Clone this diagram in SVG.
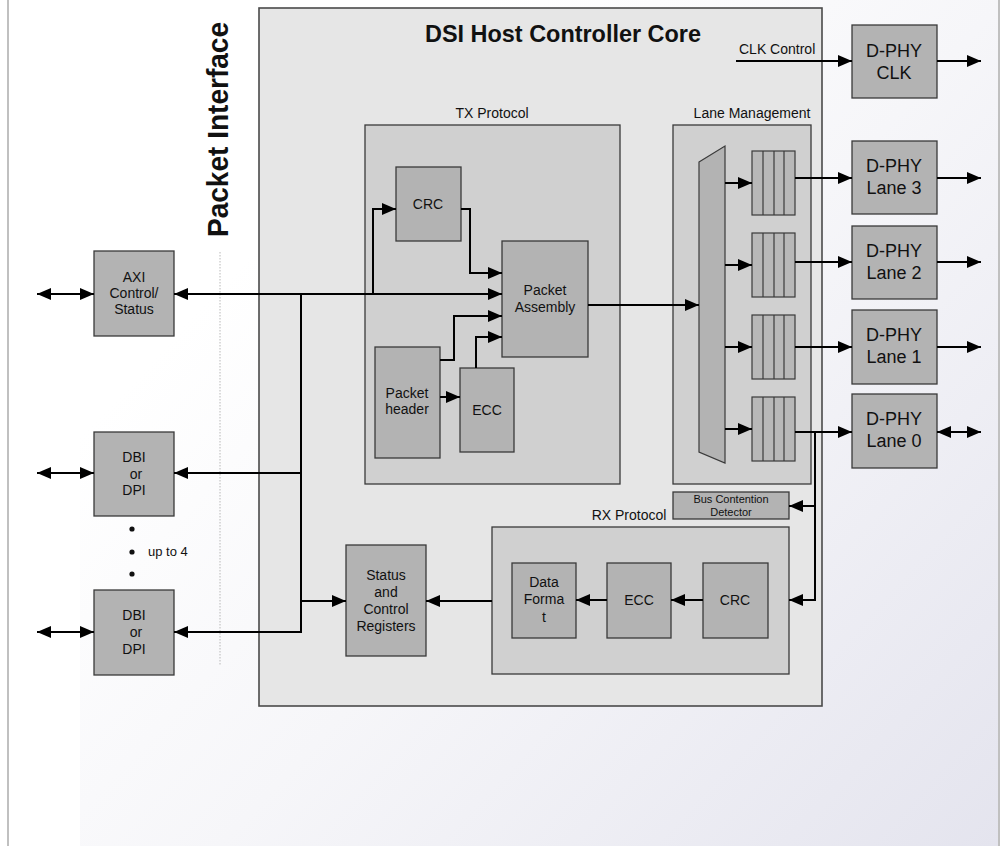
<svg xmlns="http://www.w3.org/2000/svg" width="1004" height="846" viewBox="0 0 1004 846">
<defs>
<linearGradient id="bg" gradientUnits="userSpaceOnUse" x1="300" y1="200" x2="998" y2="846">
<stop offset="0" stop-color="#ffffff"/>
<stop offset="0.4" stop-color="#f6f6f9"/>
<stop offset="1" stop-color="#e4e4ee"/>
</linearGradient>
<marker id="ah" viewBox="0 0 14 12" refX="14" refY="6" markerWidth="14" markerHeight="12" markerUnits="userSpaceOnUse" orient="auto-start-reverse">
<path d="M0,0 L14,6 L0,12 z" fill="#000"/>
</marker>
</defs>
<style>
text{font-family:"Liberation Sans",Arial,sans-serif;fill:#111;}
.t14{font-size:14px;text-anchor:middle;}
.t18{font-size:18px;text-anchor:middle;}
.blk{fill:#b3b3b3;stroke:#3a3a3a;stroke-width:1.3;}
.grp{fill:#d0d0d0;stroke:#3a3a3a;stroke-width:1.3;}
.core{fill:#e6e6e6;stroke:#4a4a4a;stroke-width:1.6;}
.fifo{fill:#b8b8b8;stroke:#3a3a3a;stroke-width:1.2;}
.c{fill:none;stroke:#000;stroke-width:2;}
.a{marker-end:url(#ah);}
.d{marker-start:url(#ah);marker-end:url(#ah);}
</style>
<rect x="0" y="0" width="1004" height="846" fill="#ffffff"/>
<rect x="80" y="0" width="919" height="846" fill="url(#bg)"/>
<line x1="8" y1="0" x2="8" y2="846" stroke="#c0c0c0" stroke-width="2"/>
<line x1="999" y1="0" x2="999" y2="846" stroke="#c0c0c0" stroke-width="2"/>

<text x="228" y="237" transform="rotate(-90 228 237)" style="font-size:29px;font-weight:bold" textLength="215" lengthAdjust="spacingAndGlyphs">Packet Interface</text>
<line x1="220" y1="252" x2="220" y2="665" stroke="#b8b8b8" stroke-width="1" stroke-dasharray="1.5,1.5"/>

<g id="core">
<rect class="core" x="259" y="8" width="563" height="698"/>
<text x="563" y="42" style="font-size:24px;font-weight:bold;text-anchor:middle" textLength="276" lengthAdjust="spacingAndGlyphs">DSI Host Controller Core</text>
</g>

<g id="tx-protocol">
<rect class="grp" x="365" y="125" width="255" height="359"/>
<text class="t14" x="492" y="118">TX Protocol</text>
</g>
<g id="lane-management">
<rect class="grp" x="673" y="125" width="138" height="359"/>
<text class="t14" x="752" y="118">Lane Management</text>
</g>
<g id="rx-protocol">
<rect class="grp" x="492" y="527" width="297" height="147"/>
<text class="t14" x="629" y="520">RX Protocol</text>
</g>

<g id="axi">
<rect class="blk" x="94" y="251" width="80" height="85"/>
<text class="t14" x="134" y="282">AXI</text>
<text class="t14" x="134" y="298">Control/</text>
<text class="t14" x="134" y="314">Status</text>
</g>
<g id="dbi1">
<rect class="blk" x="94" y="432" width="80" height="84"/>
<text class="t14" x="134" y="462">DBI</text>
<text class="t14" x="136" y="479">or</text>
<text class="t14" x="134" y="495">DPI</text>
</g>
<g id="upto4">
<circle cx="132" cy="529" r="2.6" fill="#111"/>
<circle cx="132" cy="552" r="2.6" fill="#111"/>
<circle cx="132" cy="574" r="2.6" fill="#111"/>
<text x="148" y="556" style="font-size:13px">up to 4</text>
</g>
<g id="dbi2">
<rect class="blk" x="94" y="590" width="80" height="85"/>
<text class="t14" x="134" y="620">DBI</text>
<text class="t14" x="136" y="637">or</text>
<text class="t14" x="134" y="654">DPI</text>
</g>

<g id="status-regs">
<rect class="blk" x="346" y="545" width="80" height="111"/>
<text class="t14" x="386" y="580">Status</text>
<text class="t14" x="386" y="597">and</text>
<text class="t14" x="386" y="614">Control</text>
<text class="t14" x="386" y="631">Registers</text>
</g>

<g id="tx-crc">
<rect class="blk" x="396" y="167" width="65" height="74"/>
<text class="t14" x="428" y="209">CRC</text>
</g>
<g id="packet-assembly">
<rect class="blk" x="502" y="241" width="86" height="116"/>
<text class="t14" x="545" y="295">Packet</text>
<text class="t14" x="545" y="312">Assembly</text>
</g>
<g id="packet-header">
<rect class="blk" x="375" y="347" width="65" height="111"/>
<text class="t14" x="407" y="398">Packet</text>
<text class="t14" x="407" y="414">header</text>
</g>
<g id="tx-ecc">
<rect class="blk" x="460" y="368" width="54" height="84"/>
<text class="t14" x="487" y="415">ECC</text>
</g>

<g id="mux">
<polygon points="699,162 725,146 725,463 699,452" fill="#b3b3b3" stroke="#3a3a3a" stroke-width="1.2"/>
</g>
<g id="fifo3">
<rect class="fifo" x="752" y="151" width="43" height="64"/>
<path d="M763,151V215M774,151V215M784,151V215" stroke="#3a3a3a" stroke-width="1.2"/>
</g>
<g id="fifo2">
<rect class="fifo" x="752" y="233" width="43" height="64"/>
<path d="M763,233V297M774,233V297M784,233V297" stroke="#3a3a3a" stroke-width="1.2"/>
</g>
<g id="fifo1">
<rect class="fifo" x="752" y="315" width="43" height="64"/>
<path d="M763,315V379M774,315V379M784,315V379" stroke="#3a3a3a" stroke-width="1.2"/>
</g>
<g id="fifo0">
<rect class="fifo" x="752" y="397" width="43" height="64"/>
<path d="M763,397V461M774,397V461M784,397V461" stroke="#3a3a3a" stroke-width="1.2"/>
</g>

<g id="bus-contention">
<rect class="blk" x="673" y="492" width="116" height="27"/>
<text x="731" y="503" style="font-size:11px;text-anchor:middle">Bus Contention</text>
<text x="731" y="516" style="font-size:11px;text-anchor:middle">Detector</text>
</g>

<g id="rx-dataformat">
<rect class="blk" x="512" y="563" width="64" height="75"/>
<text class="t14" x="544" y="587">Data</text>
<text class="t14" x="544" y="604">Forma</text>
<text class="t14" x="544" y="622">t</text>
</g>
<g id="rx-ecc">
<rect class="blk" x="607" y="563" width="64" height="75"/>
<text class="t14" x="639" y="605">ECC</text>
</g>
<g id="rx-crc">
<rect class="blk" x="703" y="563" width="65" height="75"/>
<text class="t14" x="735" y="605">CRC</text>
</g>

<g id="dphy-clk">
<rect class="blk" x="852" y="25" width="85" height="73"/>
<text class="t18" x="894" y="57">D-PHY</text>
<text class="t18" x="894" y="79">CLK</text>
</g>
<g id="dphy-lane3">
<rect class="blk" x="852" y="141" width="85" height="73"/>
<text class="t18" x="894" y="172">D-PHY</text>
<text class="t18" x="894" y="194">Lane 3</text>
</g>
<g id="dphy-lane2">
<rect class="blk" x="852" y="226" width="85" height="73"/>
<text class="t18" x="894" y="257">D-PHY</text>
<text class="t18" x="894" y="279">Lane 2</text>
</g>
<g id="dphy-lane1">
<rect class="blk" x="852" y="310" width="85" height="74"/>
<text class="t18" x="894" y="341">D-PHY</text>
<text class="t18" x="894" y="363">Lane 1</text>
</g>
<g id="dphy-lane0">
<rect class="blk" x="852" y="394" width="85" height="74"/>
<text class="t18" x="894" y="425">D-PHY</text>
<text class="t18" x="894" y="447">Lane 0</text>
</g>

<text x="739" y="54" style="font-size:14px">CLK Control</text>

<g id="connectors">
<line class="c d" x1="37" y1="294" x2="94" y2="294"/>
<line class="c d" x1="37" y1="473" x2="94" y2="473"/>
<line class="c d" x1="37" y1="632" x2="94" y2="632"/>
<line class="c a" x1="301" y1="294" x2="174" y2="294"/>
<line class="c a" x1="301" y1="294" x2="502" y2="294"/>
<line class="c" x1="301" y1="294" x2="301" y2="633"/>
<line class="c a" x1="302" y1="473" x2="174" y2="473"/>
<line class="c a" x1="302" y1="632" x2="174" y2="632"/>
<line class="c a" x1="300" y1="601" x2="346" y2="601"/>
<path class="c a" d="M373,294V209H396"/>
<path class="c a" d="M461,209H470V273H502"/>
<path class="c a" d="M440,360H454V316H502"/>
<path class="c a" d="M476,368V337H502"/>
<line class="c a" x1="440" y1="397" x2="460" y2="397"/>
<line class="c a" x1="588" y1="305" x2="699" y2="305"/>
<line class="c a" x1="725" y1="183" x2="752" y2="183"/>
<line class="c a" x1="725" y1="265" x2="752" y2="265"/>
<line class="c a" x1="725" y1="347" x2="752" y2="347"/>
<line class="c a" x1="725" y1="429" x2="752" y2="429"/>
<line class="c a" x1="795" y1="178" x2="852" y2="178"/>
<line class="c a" x1="795" y1="262" x2="852" y2="262"/>
<line class="c a" x1="795" y1="347" x2="852" y2="347"/>
<line class="c a" x1="795" y1="432" x2="852" y2="432"/>
<line class="c a" x1="937" y1="61" x2="981" y2="61"/>
<line class="c a" x1="937" y1="178" x2="981" y2="178"/>
<line class="c a" x1="937" y1="262" x2="981" y2="262"/>
<line class="c a" x1="937" y1="347" x2="981" y2="347"/>
<line class="c d" x1="937" y1="432" x2="981" y2="432"/>
<line class="c a" x1="736" y1="61" x2="852" y2="61"/>
<path class="c a" d="M815,432V600H789"/>
<line class="c a" x1="816" y1="506" x2="789" y2="506"/>
<line class="c a" x1="703" y1="600" x2="671" y2="600"/>
<line class="c a" x1="607" y1="600" x2="576" y2="600"/>
<line class="c a" x1="492" y1="601" x2="426" y2="601"/>
</g>
</svg>
